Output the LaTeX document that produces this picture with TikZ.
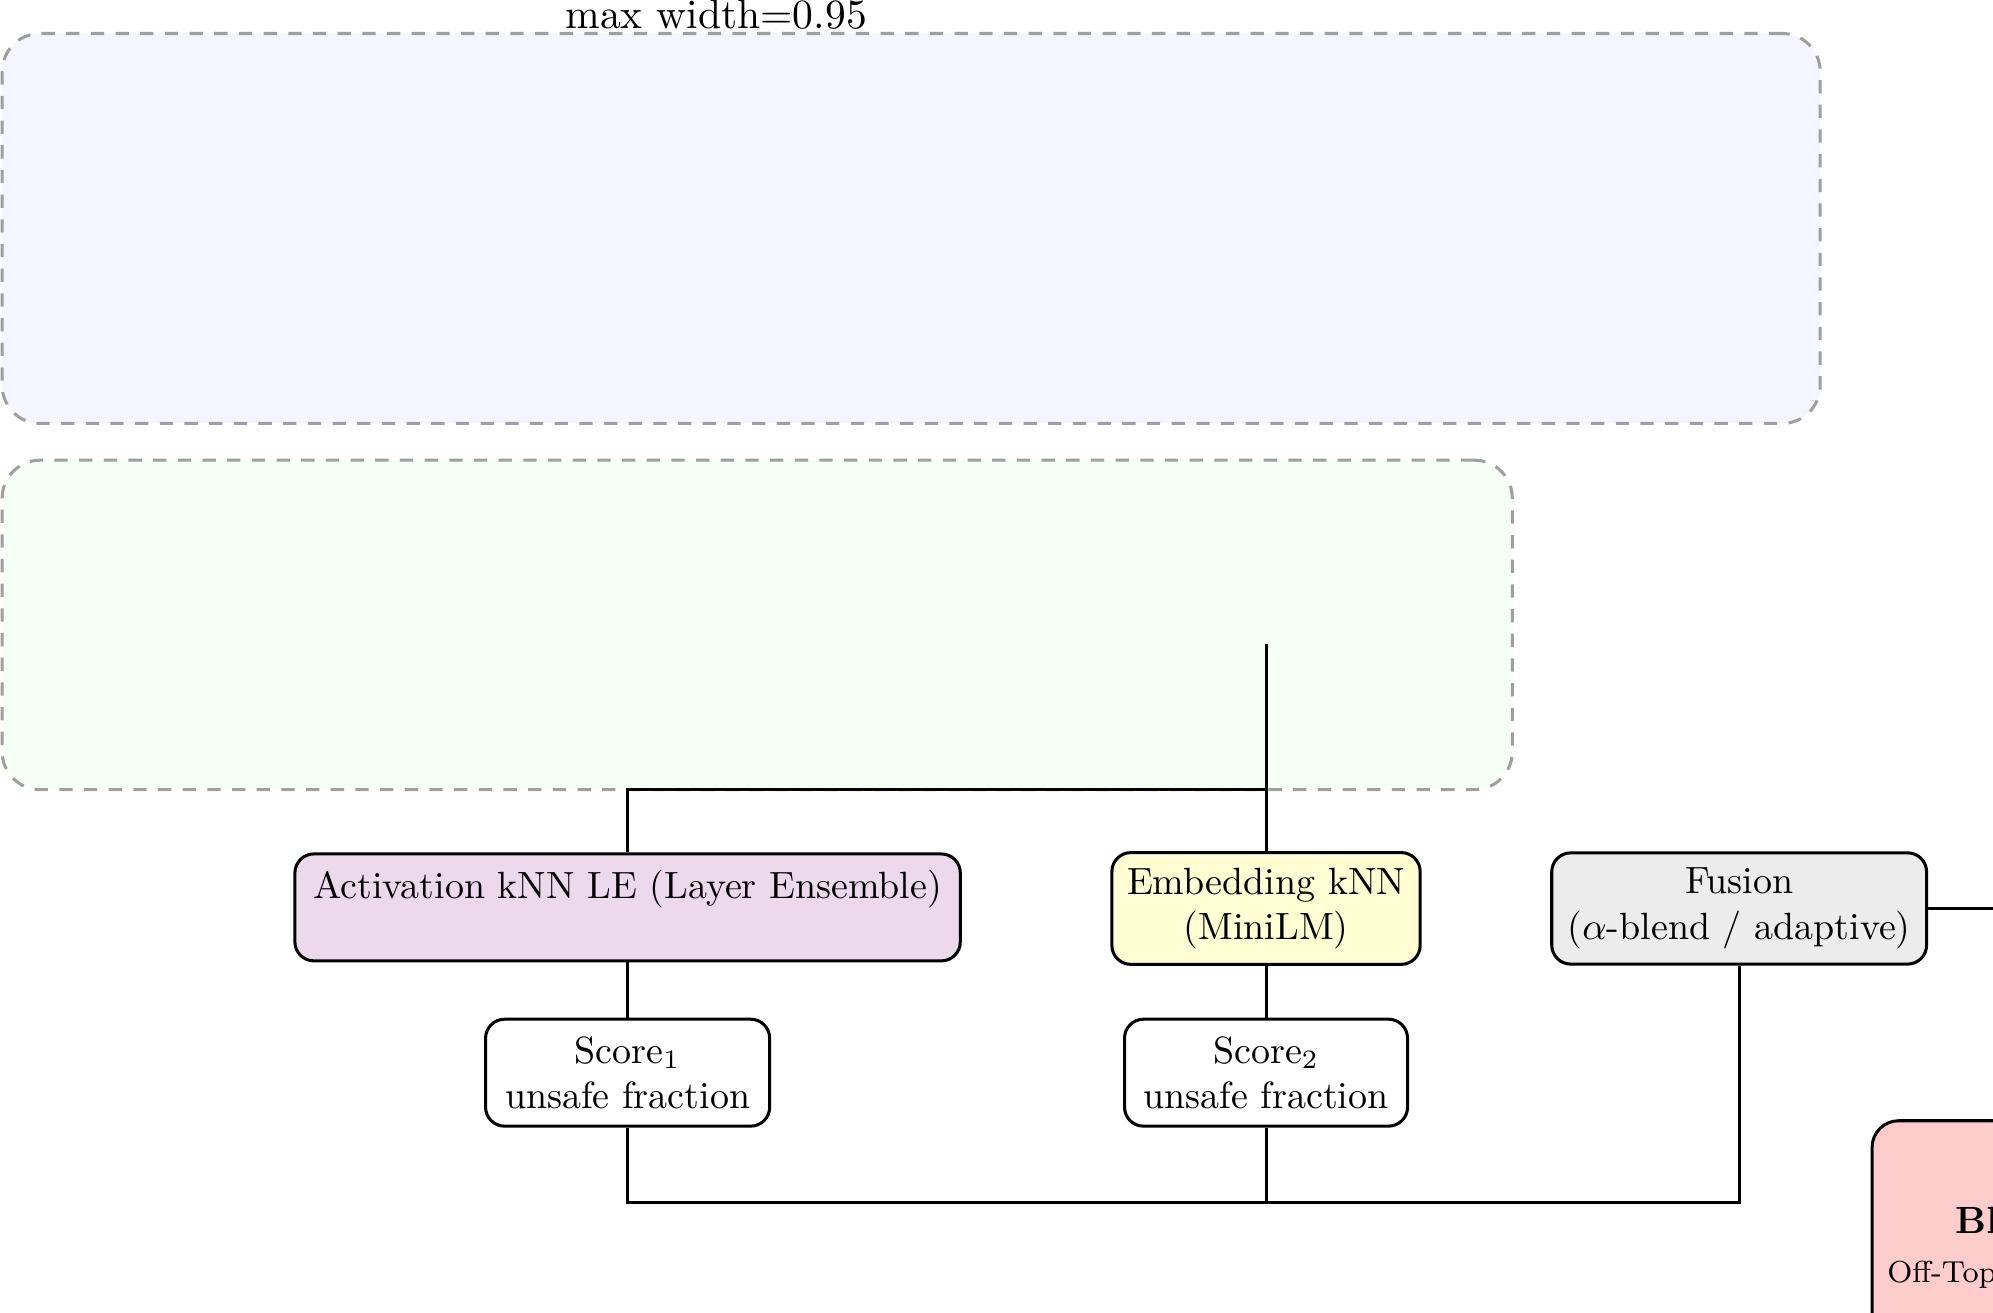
\documentclass[tikz,border=0pt]{standalone}
\usepackage{amsmath,amssymb}
\usepackage{xcolor}
\usepackage{tikz}
\usetikzlibrary{positioning, calc}

\begin{document}
\begin{tikzpicture}[
    every node/.style={font=\normalsize},
    group/.style={rectangle, draw=gray!75, thick, dash pattern=on 3.5pt off 3pt,
                  rounded corners=10pt, inner sep=0pt},
    blk/.style={rectangle, draw, thick, rounded corners=5pt, align=center,
                inner sep=4pt, minimum height=9.9mm},
    link/.style={thick},
  ]
    \useasboundingbox (0,0) rectangle (18.45,-12.15);
    \clip (0,0) rectangle (18.45,-12.15);
    % dashed containers
    \node[group, fill=blue!4, minimum width=16.83cm, minimum height=3.61cm] (det) at (8.435,-2.115) {};
    \node[group, fill=green!4, minimum width=13.98cm, minimum height=3.05cm] (feat) at (7.01,-5.785) {};
    \node[anchor=base, font=\fontsize{10.95}{13.6}\selectfont] (cap) at (6.63,-0.26) {max width=0.95};
    \coordinate (tap) at (11.72,-5.96);
    \coordinate (split) at (11.72,-7.31);
    \coordinate (join) at (16.10,-11.13);
    \coordinate (gate) at (19.20,-8.41);
    % scorers
    \node[blk, fill=violet!15, minimum width=6.16cm] (act) at (5.81,-8.40)
      {Activation kNN LE (Layer Ensemble)\\ \mbox{}};
    \node[blk, fill=yellow!18, minimum width=2.85cm] (emb) at (11.72,-8.41)
      {Embedding kNN\\(MiniLM)};
    \node[blk, fill=gray!15, minimum width=3.47cm] (fus) at (16.10,-8.41)
      {Fusion\\($\alpha$-blend / adaptive)};
    \node[blk, fill=white, minimum width=2.63cm] (s1) at (5.81,-9.93)
      {Score$_1$\\unsafe fraction};
    \node[blk, fill=white, minimum width=2.62cm] (s2) at (11.72,-9.93)
      {Score$_2$\\unsafe fraction};
    \node[blk, fill=red!20, rounded corners=7pt, minimum width=2.26cm, minimum height=2.37cm] (dec)
      at (18.60,-11.56) {\textbf{Block}\\[1pt]{\footnotesize Off-Topic/Unsafe}};
    % connectors
    \draw[link] (tap) -- (emb);
    \draw[link] (split) -| (act);
    \draw[link] (act) -- (s1);
    \draw[link] (emb) -- (s2);
    \draw[link] (s1) |- (join) -- (fus);
    \draw[link] (s2) -- (s2 |- join);
    \draw[link] (fus) -- (gate);
\end{tikzpicture}
\end{document}
